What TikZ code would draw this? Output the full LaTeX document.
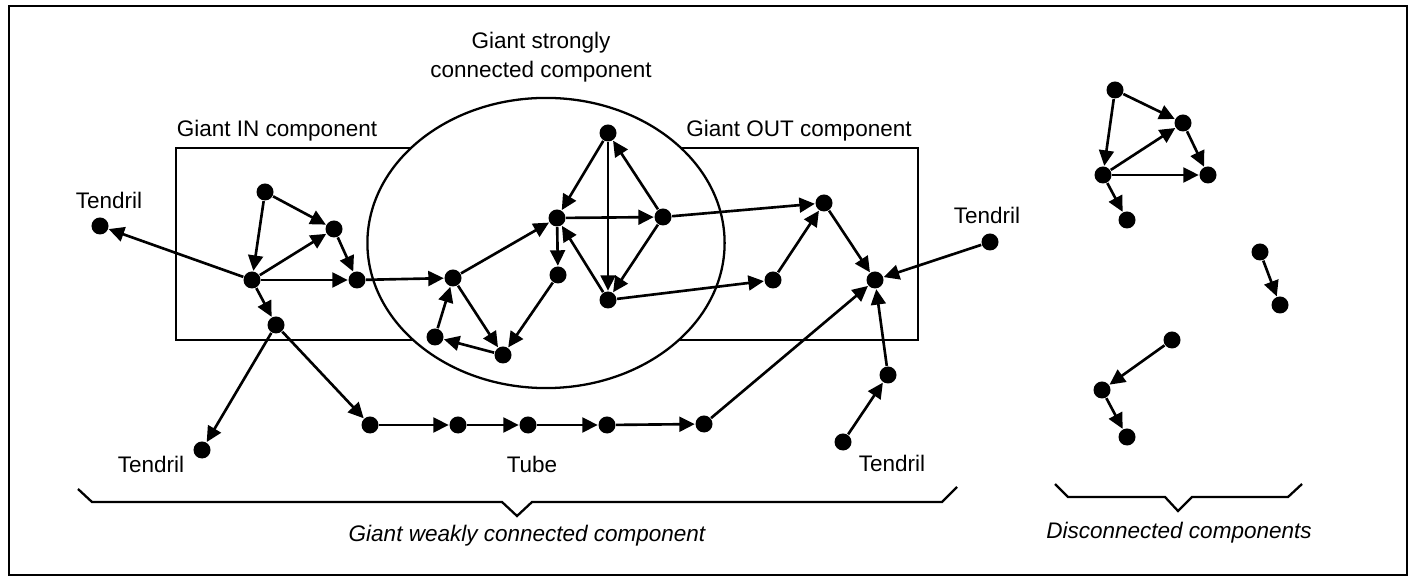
\documentclass[tikz,border=0pt]{standalone}
\usepackage{fontspec}
\setmainfont{Liberation Sans}
\usetikzlibrary{arrows.meta}
\begin{document}
\begin{tikzpicture}[x=0.01cm,y=-0.01cm,
  dot/.style={circle,fill=black,inner sep=0pt,minimum size=0.17cm},
  arr/.style={line width=0.75pt,-{Triangle[length=4.4pt,width=4.2pt]}},
  lbl/.style={inner sep=0pt,font=\fontsize{6.4}{7.7}\selectfont},
  ilbl/.style={inner sep=0pt,font=\fontsize{6.4}{7.7}\selectfont\itshape},
  frame/.style={line width=0.65pt}]
\useasboundingbox (0,0) rectangle (1410,577);
\draw[frame] (9,6) rectangle (1407,575);
% IN / OUT box and SCC ellipse
\draw[frame] (176,148) rectangle (918,340);
\draw[frame,fill=white] (546,243) ellipse [x radius=178.5cm/100, y radius=145cm/100];
% labels
\node[lbl] (tin) at (277,131) {Giant IN component};
\node[lbl] (tout) at (799,131) {Giant OUT component};
\node[lbl,align=center] (tscc) at (541,57) {Giant strongly\\[0.5pt]connected component};
\node[lbl] (lt1) at (109,200) {Tendril};
\node[lbl] (lt2) at (151,464) {Tendril};
\node[lbl] (ltube) at (532,464) {Tube};
\node[lbl] (lt3) at (892,463) {Tendril};
\node[lbl] (lt4) at (987,215) {Tendril};
\node[ilbl] (lweak) at (527,536) {Giant weakly connected component};
\node[ilbl] (ldis) at (1179,533) {Disconnected components};
% braces
\coordinate (b1) at (78,489); \coordinate (b7) at (957,487);
\draw[frame] (b1) -- (92,502) -- (502,502) -- (517,516) -- (532,502) -- (942,502) -- (b7);
\coordinate (c1) at (1055,484); \coordinate (c7) at (1302,484);
\draw[frame] (c1) -- (1068,497) -- (1165,497) -- (1178,511) -- (1192,497) -- (1288,497) -- (c7);
% IN nodes
\node[dot] (a) at (265,192) {};
\node[dot] (b) at (334,229) {};
\node[dot] (c) at (252,280) {};
\node[dot] (d) at (357,280) {};
\node[dot] (e) at (276,325) {};
\node[dot] (tl) at (100,226) {};
\node[dot] (tll) at (202,450) {};
% SCC nodes
\node[dot] (f) at (453,278) {};
\node[dot] (g) at (435,337) {};
\node[dot] (h) at (503,355) {};
\node[dot] (i) at (558,275) {};
\node[dot] (j) at (557,218) {};
\node[dot] (k) at (608,133) {};
\node[dot] (l) at (663,217) {};
\node[dot] (m) at (608,300) {};
% OUT nodes
\node[dot] (n) at (824,203) {};
\node[dot] (o) at (773,280) {};
\node[dot] (p) at (875,280) {};
\node[dot] (tr) at (990,242) {};
\node[dot] (q) at (888,375) {};
\node[dot] (tlr) at (843,442) {};
% tube
\node[dot] (t1) at (370,425) {};
\node[dot] (t2) at (458,425) {};
\node[dot] (t3) at (528,425) {};
\node[dot] (t4) at (607,425) {};
\node[dot] (t5) at (704,424) {};
% disconnected
\node[dot] (d1) at (1115,90) {};
\node[dot] (d2) at (1183,123) {};
\node[dot] (d3) at (1103,175) {};
\node[dot] (d4) at (1208,175) {};
\node[dot] (d5) at (1127,220) {};
\node[dot] (e1) at (1260,252) {};
\node[dot] (e2) at (1280,305) {};
\node[dot] (f1) at (1172,340) {};
\node[dot] (f2) at (1102,390) {};
\node[dot] (f3) at (1127,437) {};
% IN edges
\draw[arr] (a) -- (c);
\draw[arr] (a) -- (b);
\draw[arr] (c) -- (b);
\draw[arr] (b) -- (d);
\draw[arr] (c) -- (d);
\draw[arr] (c) -- (tl);
\draw[arr] (c) -- (e);
\draw[arr] (e) -- (tll);
\draw[arr] (e) -- (t1);
\draw[arr] (d) -- (f);
% SCC edges
\draw[arr] (f) -- (j);
\draw[arr] (g) -- (f);
\draw[arr] (f) -- (h);
\draw[arr] (h) -- (g);
\draw[arr] (i) -- (h);
\draw[arr] (j) -- (i);
\draw[arr] (k) -- (j);
\draw[arr] (l) -- (k);
\draw[arr] (j) -- (l);
\draw[arr] (k) -- (m);
\draw[arr] (l) -- (m);
\draw[arr] (m) -- (j);
\draw[arr] (l) -- (n);
\draw[arr] (m) -- (o);
% OUT edges
\draw[arr] (o) -- (n);
\draw[arr] (n) -- (p);
\draw[arr] (tr) -- (p);
\draw[arr] (q) -- (p);
\draw[arr] (tlr) -- (q);
\draw[arr] (t5) -- (p);
% tube edges
\draw[arr] (t1) -- (t2);
\draw[arr] (t2) -- (t3);
\draw[arr] (t3) -- (t4);
\draw[arr] (t4) -- (t5);
% disconnected edges
\draw[arr] (d1) -- (d2);
\draw[arr] (d1) -- (d3);
\draw[arr] (d3) -- (d2);
\draw[arr] (d2) -- (d4);
\draw[arr] (d3) -- (d4);
\draw[arr] (d3) -- (d5);
\draw[arr] (e1) -- (e2);
\draw[arr] (f1) -- (f2);
\draw[arr] (f2) -- (f3);
\end{tikzpicture}
\end{document}
